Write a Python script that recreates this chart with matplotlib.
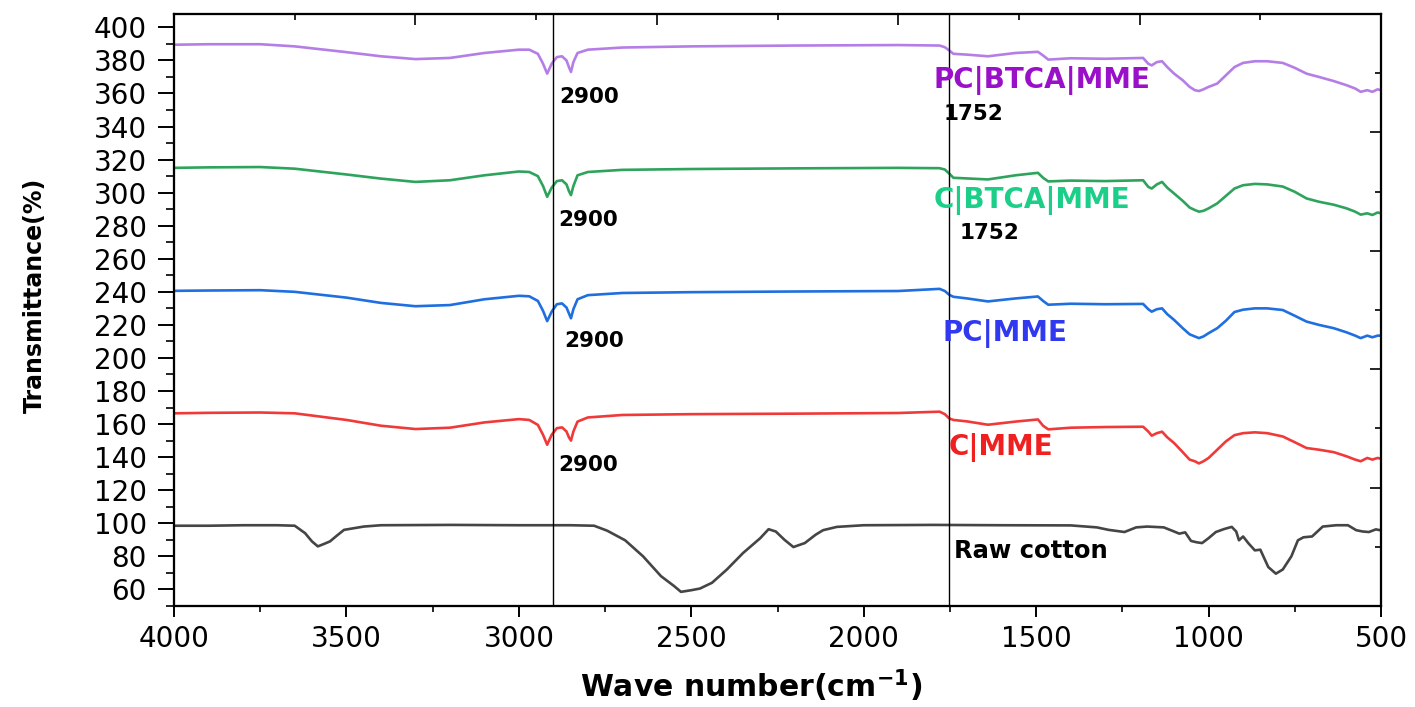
import matplotlib
matplotlib.use("Agg")
import matplotlib.pyplot as plt
import numpy as np

# wavenumber grid shared by the four treated samples (cm-1)
wn_mod = [4000, 3900, 3750, 3650, 3500, 3400, 3300, 3200, 3100, 3000, 2970, 2945,
          2930, 2918, 2905, 2890, 2875, 2862, 2855, 2849, 2842, 2830, 2800, 2700,
          2500, 2200, 1900, 1780, 1765, 1752, 1740, 1700, 1640, 1560, 1495, 1480,
          1465, 1400, 1300, 1190, 1175, 1165, 1150, 1135, 1120, 1100, 1075, 1055,
          1040, 1028, 1015, 1000, 975, 950, 925, 900, 866, 830, 785, 750, 716, 680,
          637, 600, 575, 559, 540, 525, 510, 500]

pc_btca_mme = [389.5, 389.8, 389.8, 388.5, 385, 382.5, 380.8, 381.5, 384.5, 386.5, 386.5, 384,
               378, 372, 378, 382, 382.5, 380, 376, 373, 379, 384.5, 386.5, 387.8,
               388.5, 389, 389.3, 389, 388, 386, 384, 383.5, 382.5, 384.5, 385.2, 383,
               380.5, 381.3, 381, 381.5, 378, 377, 379, 379.5, 376, 372, 368, 364,
               362, 361.5, 362.5, 364, 366, 371, 376, 378.5, 379.5, 379.5, 378.5, 375.5, 372, 370,
               367.5, 365, 363, 361, 362, 361, 362.5, 362]

c_btca_mme = [315, 315.3, 315.5, 314.5, 311, 308.5, 306.5, 307.5, 310.5, 312.8, 312.5, 310,
              304, 297.5, 303, 307, 307.5, 305, 301, 298.5, 304, 310.5, 312.5, 313.8,
              314.3, 314.7, 315, 314.8, 314, 311.5, 309, 308.6, 308, 310.5, 312, 309,
              306.8, 307.3, 307, 307.5, 303.5, 302.5, 305, 306.5, 303, 299.5, 295, 291,
              289.5, 288.5, 289, 290.5, 293.5, 298, 302.5, 304.5, 305.3, 305, 303.7, 300.5, 296.5, 294.5,
              292.7, 290.5, 288.5, 286.7, 287.5, 286.5, 288, 287.5]

pc_mme = [240.6, 240.8, 241, 240, 236.5, 233.3, 231.3, 232, 235.5, 237.6, 237.3, 234.5,
          228.5, 222.3, 228, 232.5, 233, 230.5, 227, 224, 229.5, 235.5, 238, 239.3,
          239.8, 240.2, 240.5, 241.8, 240.5, 238.2, 237, 236, 234.2, 236, 237.2, 234.5,
          232.2, 232.8, 232.5, 232.7, 229.5, 228, 229.5, 230, 226.5, 223, 218, 214.3,
          213, 212, 213, 215, 218, 222.5, 227.8, 229.2, 230, 230, 229, 225.5, 222, 220,
          218, 215.5, 213.5, 212, 213.5, 212.5, 213.5, 213.5]

c_mme = [166.5, 166.8, 167, 166.5, 162.5, 159, 157, 157.8, 161, 163, 162.5, 159.5,
         153.5, 147.5, 153.5, 157.5, 158, 155.5, 152, 150, 155.5, 161.5, 164, 165.5,
         166, 166.3, 166.7, 167.5, 166, 163.4, 162.5, 161.6, 159.6, 161.5, 162.8, 159,
         156.8, 157.8, 158.2, 158.4, 155.5, 153, 154.5, 155.4, 152, 148.5, 143, 138.5,
         137.5, 136.2, 137.5, 139.5, 144.5, 149.5, 153.3, 154.5, 155, 154.5, 152.5, 149, 145.5, 144.5,
         143, 140.5, 138.5, 137.5, 139.5, 138.5, 139.5, 139]

wn_raw = [4000, 3900, 3800, 3700, 3650, 3620, 3600, 3583, 3565, 3548, 3525, 3507, 3450,
          3400, 3200, 3000, 2850, 2782, 2744, 2692, 2640, 2588, 2550, 2530, 2500, 2475,
          2440, 2397, 2350, 2300, 2276, 2255, 2230, 2204, 2185, 2171, 2140, 2118, 2078,
          2000, 1800, 1600, 1400, 1324, 1290, 1244, 1210, 1178, 1130, 1100, 1085, 1068,
          1051, 1035, 1019, 1000, 979, 955, 933, 920, 912, 900, 885, 866, 850, 827, 805,
          785, 760, 741, 725, 700, 669, 630, 596, 572, 553, 535, 515, 503, 500]
raw_cotton = [98.5, 98.5, 98.8, 98.8, 98.5, 94, 89, 86, 87.5, 89, 93, 96, 98,
              98.8, 99, 98.8, 98.8, 98.5, 95.5, 89.7, 80, 68, 62, 58.5, 59.5, 60.5,
              64, 72, 82, 91, 96.4, 95, 90, 85.6, 87, 88, 93, 95.8, 97.8,
              98.8, 99, 98.8, 98.7, 97.5, 96, 94.7, 97.5, 98, 97.5, 95, 93.7, 94.5,
              89.3, 88.5, 88, 91, 94.7, 96.5, 97.8, 95, 89.7, 92, 88, 83.6, 84, 73.5, 69.5,
              72, 80, 89.7, 91.5, 92, 98, 98.8, 98.8, 95.8, 95, 94.7, 96.3, 95.8, 96]

marker_wn = [2900, 1752]

fig = plt.figure(figsize=(14.15, 7.07), dpi=100)
ax = fig.add_axes([0.123, 0.143, 0.853, 0.837])

ax.plot(wn_raw, raw_cotton, color="#454545", lw=1.9)
ax.plot(wn_mod, c_mme, color="#f03a3a", lw=1.9)
ax.plot(wn_mod, pc_mme, color="#1f6fe0", lw=1.9)
ax.plot(wn_mod, c_btca_mme, color="#2ea35c", lw=1.9)
ax.plot(wn_mod, pc_btca_mme, color="#b57ee6", lw=1.9)

for w in marker_wn:
    ax.axvline(w, color="black", lw=1.0)

ax.set_xlim(4000, 500)
ax.set_ylim(50, 408)
ax.set_xticks(np.arange(4000, 499, -500))
ax.set_xticks(np.arange(3750, 500, -500), minor=True)
ax.set_yticks(np.arange(60, 401, 20))
ax.set_yticks(np.arange(50, 408, 10), minor=True)
ax.tick_params(which="major", direction="out", width=1.4, labelsize=20)
ax.tick_params(which="minor", direction="out", width=1.2)
ax.tick_params(axis="x", which="major", length=8, pad=6)
ax.tick_params(axis="x", which="minor", length=4)
ax.tick_params(axis="y", which="major", length=11.5, pad=8)
ax.tick_params(axis="y", which="minor", length=6)
for s in ax.spines.values():
    s.set_linewidth(1.5)

# opposite axes: plain inward ticks, ten intervals each
axt = ax.twiny()
axt.set_xlim(ax.get_xlim())
top = np.linspace(4000, 500, 11)
axt.set_xticks(top[::2])
axt.set_xticks(top[1::2], minor=True)
axt.tick_params(which="both", direction="in", labeltop=False, width=1.2)
axt.tick_params(which="major", length=8)
axt.tick_params(which="minor", length=4)
axr = ax.twinx()
axr.set_ylim(ax.get_ylim())
right = np.linspace(50, 408, 11)
axr.set_yticks(right[::2])
axr.set_yticks(right[1::2], minor=True)
axr.tick_params(which="both", direction="in", labelright=False, width=1.2)
axr.tick_params(which="major", length=8)
axr.tick_params(which="minor", length=4)
for a in (axt, axr):
    for s in a.spines.values():
        s.set_linewidth(1.5)

ax.set_xlabel("Wave number(cm$^{\\mathbf{-1}}$)", fontsize=21.5, fontweight="bold")
ax.xaxis.set_label_coords(0.478, -0.104)
ax.set_ylabel("Transmittance(%)", fontsize=17, fontweight="bold")
ax.yaxis.set_label_coords(-0.105, 0.524)

peak_kw = dict(fontsize=15.5, fontweight="bold", color="black", va="center", ha="left")
ax.text(2883, 358, "2900", **peak_kw)
ax.text(2887, 283.6, "2900", **peak_kw)
ax.text(2869, 210.3, "2900", **peak_kw)
ax.text(2887, 135.2, "2900", **peak_kw)
ax.text(1768, 347.3, "1752", **peak_kw)
ax.text(1723, 275.8, "1752", **peak_kw)

name_kw = dict(fontsize=20, fontweight="bold", va="center", ha="left")
ax.text(1797, 368, "PC|BTCA|MME", color="#9a10c8", **name_kw)
ax.text(1797, 295.2, "C|BTCA|MME", color="#1ccf88", **name_kw)
ax.text(1772, 214.5, "PC|MME", color="#3038f0", **name_kw)
ax.text(1755, 146, "C|MME", color="#f02020", **name_kw)
ax.text(1738, 83, "Raw cotton", fontsize=17.5, fontweight="bold", color="black",
        va="center", ha="left")

fig.savefig("out.png", dpi=100)
